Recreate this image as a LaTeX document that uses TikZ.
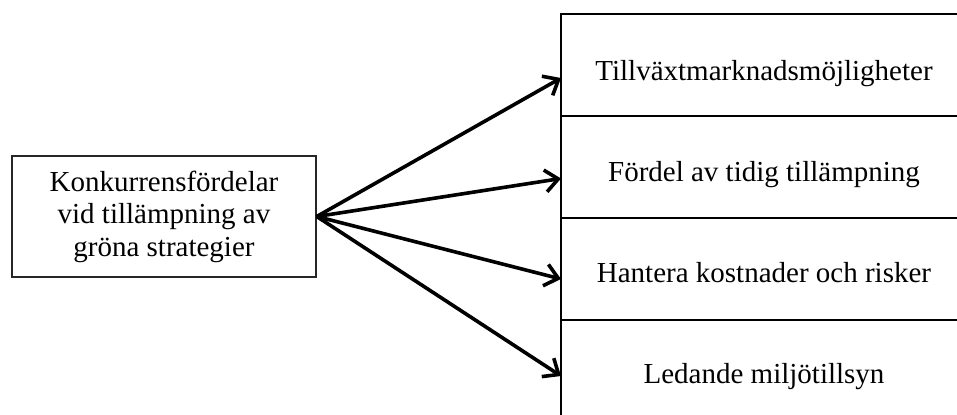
\documentclass[tikz,border=0pt]{standalone}
\usepackage{fontspec}
\setmainfont{Liberation Serif}
\usetikzlibrary{positioning,arrows.meta}

\begin{document}
\begin{tikzpicture}[x=0.5pt,y=-0.5pt,node distance=0pt,
  box/.style={draw=black!85,line width=0.75pt,minimum width=152pt,minimum height=60.5pt,
    align=center,inner sep=0pt,font=\fontsize{14.5}{16.25}\selectfont},
  row/.style={draw,line width=1pt,minimum width=203pt,minimum height=51pt,outer sep=0pt},
  lbl/.style={anchor=base,font=\fontsize{14.5}{17}\selectfont},
  arrow/.style={-{Straight Barb[length=6.5pt,width=11pt]},line width=1.8pt}]
\useasboundingbox (0,0) rectangle (957,414);
\clip (0,0) rectangle (957,414);
\node[box] (src) at (164,216.5) {Konkurrensfördelar\\vid tillämpning av\\gröna strategier};
\node[row] (r1) at (764,65) {};
\node[row,below=of r1] (r2) {};
\node[row,below=of r2] (r3) {};
\node[row,below=of r3] (r4) {};
\node[lbl] (t1) at (764,80) {Tillväxtmarknadsmöjligheter};
\node[lbl] (t2) at (764,181) {Fördel av tidig tillämpning};
\node[lbl] (t3) at (764,282) {Hantera kostnader och risker};
\node[lbl] (t4) at (764,383) {Ledande miljötillsyn};
\path[arrow]
(src.east) edge ([yshift=-6.5pt]r1.west)
(src.east) edge ([yshift=-5.75pt]r2.west)
(src.east) edge ([yshift=-5pt]r3.west)
(src.east) edge ([yshift=-2.5pt]r4.west);
\end{tikzpicture}
\end{document}
